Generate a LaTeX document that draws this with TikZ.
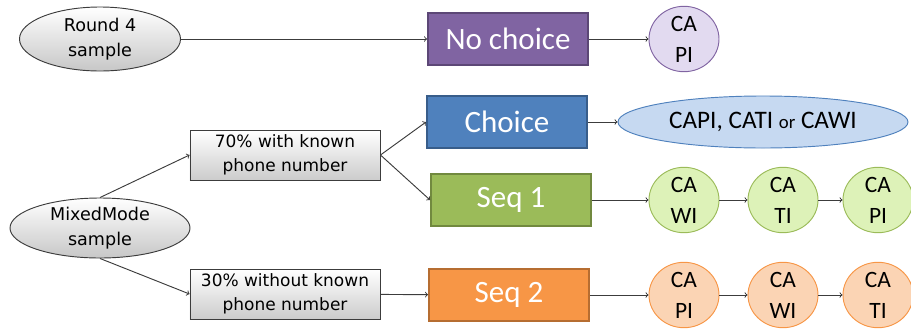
\documentclass[tikz,border=0pt]{standalone}
\usepackage{fontspec}
\setmainfont{Carlito}
\newfontfamily\greyfont{DejaVu Sans}
\usetikzlibrary{shapes.geometric}

\definecolor{purplebox}{HTML}{8064A2}
\definecolor{purpleline}{HTML}{5C4776}
\definecolor{bluebox}{HTML}{4F81BD}
\definecolor{blueline}{HTML}{385D8A}
\definecolor{greenbox}{HTML}{9BBB59}
\definecolor{greenline}{HTML}{71893F}
\definecolor{orangebox}{HTML}{F79646}
\definecolor{orangeline}{HTML}{B66D31}
\definecolor{purplecirc}{HTML}{E2DAF0}
\definecolor{bluecirc}{HTML}{C6D9F1}
\definecolor{greencirc}{HTML}{DDF2B8}
\definecolor{orangecirc}{HTML}{FBD4B4}
\definecolor{greyline}{HTML}{3C3C3C}

\begin{document}
\begin{tikzpicture}[x=0.03cm, y=-0.03cm,
    modebox/.style={rectangle, line width=1.6pt, minimum width=4.8cm, minimum height=1.56cm,
        inner sep=0pt, text=white, font=\fontsize{26.5}{30}\selectfont},
    samplenode/.style={ellipse, draw=greyline, line width=0.8pt, top color=white, bottom color=black!22,
        inner sep=0pt, align=center, font=\greyfont\fontsize{15}{21}\selectfont},
    phonebox/.style={rectangle, draw=greyline, line width=0.8pt, top color=white, bottom color=black!20,
        minimum width=5.7cm, minimum height=1.5cm, inner sep=0pt, align=center,
        font=\greyfont\fontsize{14.5}{21}\selectfont},
    modenode/.style={ellipse, line width=0.8pt, minimum width=2.1cm, minimum height=1.92cm,
        inner sep=0pt, align=center, font=\fontsize{20}{26.5}\selectfont},
    link/.style={->, line width=0.8pt, draw=greyline}]

    \useasboundingbox (0,0) rectangle (911,330);

    \node [samplenode, minimum width=4.83cm, minimum height=1.92cm] (round) at (100,39) {Round 4\\sample};
    \node [samplenode, minimum width=5.4cm, minimum height=1.8cm] (mixed) at (100,228) {MixedMode\\sample};
    \node [phonebox] (known) at (285,155) {70\% with known\\phone number};
    \node [phonebox] (unknown) at (285,294) {30\% without known\\phone number};

    \node [modebox, fill=purplebox, draw=purpleline] (nochoice) at (508,39) {No choice};
    \node [modebox, fill=bluebox, draw=blueline] (choice) at (507,122) {Choice};
    \node [modebox, fill=greenbox, draw=greenline] (seq1) at (511,200) {Seq 1};
    \node [modebox, fill=orangebox, draw=orangeline] (seq2) at (509,295) {Seq 2};

    \node [modenode, fill=purplecirc, draw=purplebox] (capi0) at (684,39) {CA\\PI};
    \node [modenode, fill=bluecirc, draw=bluebox, minimum width=8.7cm, minimum height=1.56cm,
        font=\fontsize{21.5}{26}\selectfont] (any) at (763,122)
        {CAPI, CATI {\fontsize{16}{18}\selectfont or} CAWI};
    \node [modenode, fill=greencirc, draw=greenbox] (cawi1) at (684,200) {CA\\WI};
    \node [modenode, fill=greencirc, draw=greenbox] (cati1) at (783,200) {CA\\TI};
    \node [modenode, fill=greencirc, draw=greenbox] (capi1) at (878,200) {CA\\PI};
    \node [modenode, fill=orangecirc, draw=orangebox] (capi2) at (684,295) {CA\\PI};
    \node [modenode, fill=orangecirc, draw=orangebox] (cawi2) at (783,295) {CA\\WI};
    \node [modenode, fill=orangecirc, draw=orangebox] (cati2) at (878,295) {CA\\TI};

    \draw [link] (round) -- (nochoice);
    \draw [link] (nochoice) -- (capi0);
    \draw [link] (mixed.north) -- (known.west);
    \draw [link] (mixed.south) -- (unknown.west);
    \draw [link] (known.east) -- (choice.west);
    \draw [link] (known.east) -- (seq1.west);
    \draw [link] (unknown) -- (seq2);
    \draw [link] (choice) -- (any);
    \draw [link] (seq1) -- (cawi1);
    \draw [link] (cawi1) -- (cati1);
    \draw [link] (cati1) -- (capi1);
    \draw [link] (seq2) -- (capi2);
    \draw [link] (capi2) -- (cawi2);
    \draw [link] (cawi2) -- (cati2);
\end{tikzpicture}
\end{document}
